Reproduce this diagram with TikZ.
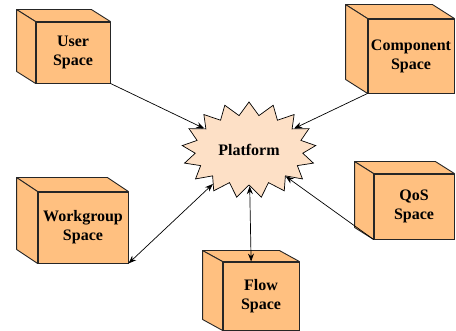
\documentclass[tikz,border=0pt]{standalone}
\usepackage{fontspec}
\setmainfont{Liberation Serif}
\usepackage{tikz}
\usetikzlibrary{shapes.symbols,arrows.meta,calc,positioning}
\definecolor{boxorange}{RGB}{255,192,128}
\definecolor{platpeach}{RGB}{253,224,198}

% top and left faces behind a front face node
\newcommand{\boxdepth}[3]{%
  \filldraw[boxside] (#1.north west) -- ++(#2,#3) -- ($(#1.north east)+(#2,#3)$) -- (#1.north east) -- cycle;
  \filldraw[boxside] (#1.north west) -- ++(#2,#3) -- ($(#1.south west)+(#2,#3)$) -- (#1.south west) -- cycle;
}

\begin{document}
\begin{tikzpicture}[x=1pt, y=-1pt, line width=0.9pt,
    font=\fontsize{16}{19}\selectfont\bfseries,
    spacebox/.style={rectangle, draw=black!85, fill=boxorange, align=center, inner sep=0pt},
    boxside/.style={draw=black!85, fill=boxorange, line join=round},
    link/.style={line width=0.7pt, -{Stealth[length=8pt,width=6pt]}},
    dlink/.style={line width=0.7pt, {Stealth[length=8pt,width=6pt]}-{Stealth[length=8pt,width=6pt]}}]
   \useasboundingbox (0,0) rectangle (456,331);

   \node (plat) at (249,150) [starburst, starburst points=17, starburst point height=13pt,
      random starburst=0, draw=black, fill=platpeach, line width=0.7pt,
      minimum width=134pt, minimum height=96pt] {Platform};

   \begin{scope}[every node/.style={spacebox}]
    \node (user) at (73,52.5) [minimum width=74pt, minimum height=61pt] {User\\Space};
    \node (comp) at (411,56) [minimum width=86pt, minimum height=74pt] {Component\\Space};
    \node (work) at (83,227.5) [minimum width=90pt, minimum height=71pt] {Workgroup\\Space};
    \node (flow) at (261,296) [minimum width=76pt, minimum height=68pt] {Flow\\Space};
    \node (qos) at (414,206.5) [minimum width=80pt, minimum height=65pt] {QoS\\Space};
   \end{scope}
   \boxdepth{user}{-19}{-12}
   \boxdepth{comp}{-22}{-14}
   \boxdepth{work}{-21}{-14}
   \boxdepth{flow}{-20}{-11}
   \boxdepth{qos}{-19}{-12}

   \draw[link] (user.south east) -- (plat);
   \draw[link] (comp.south west) -- (plat);
   \draw[link] (qos.south west) -- (plat);
   \draw[dlink] (plat) -- (work.south east);
   \draw[dlink] (plat) -- (flow.106);
\end{tikzpicture}
\end{document}
